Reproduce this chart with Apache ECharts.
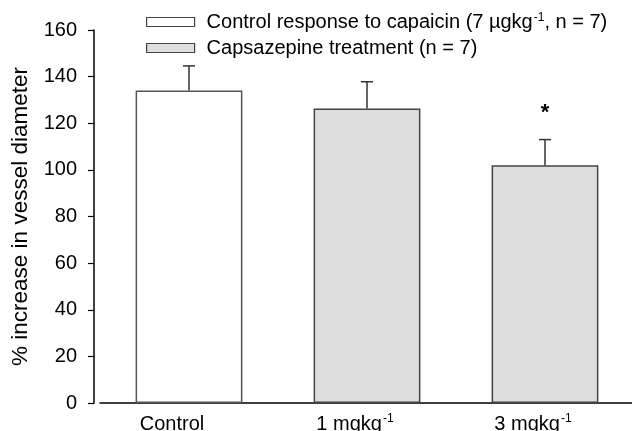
<!DOCTYPE html>
<html>
<head>
<meta charset="utf-8">
<script src="https://cdn.jsdelivr.net/npm/echarts@6/dist/echarts.min.js"></script>
<style>
html,body{margin:0;padding:0;background:#fff;}
#chart{width:632px;height:431px;}
</style>
</head>
<body>
<div id="chart"></div>
<script>
// ---- data ----
var categories = ['Control', '1 mgkg', '3 mgkg'];
var categoryLabels = ['{a|Control}{g1| }', '{a|1 mgkg}{sup|-1}{g2| }', '{a|3 mgkg}{sup|-1}{g2| }'];
var controlValues = [134, '-', '-'];
var treatmentValues = ['-', 126.3, 102];
var meanValues = [134, 126.3, 102];
var errorTops = [144.6, 137.8, 113];
var sigMarks = ['', '', '*'];
var yTicks = [0, 20, 40, 60, 80, 100, 120, 140, 160];
var seriesNames = ['Control response to capaicin (7 \u00b5gkg-1, n = 7)', 'Capsazepine treatment (n = 7)'];

var FONT = 'Liberation Sans, Arial, sans-serif';
var FS = 20;

var chart = echarts.init(document.getElementById('chart'), null, {renderer: 'canvas'});

var errData = categories.map(function (c, i) { return [i, meanValues[i], errorTops[i], sigMarks[i]]; });

var option = {
  animation: false,
  backgroundColor: '#fff',
  grid: {left: 100, right: -2, top: 30, bottom: 28, containLabel: false, outerBoundsMode: 'none'},
  legend: {
    orient: 'vertical',
    left: 146,
    top: 12,
    padding: 0,
    itemWidth: 48,
    itemHeight: 9,
    itemGap: 4,
    icon: 'rect',
    data: [
      {name: seriesNames[0], itemStyle: {color: '#ffffff', borderColor: '#444', borderWidth: 1.2}},
      {name: seriesNames[1], itemStyle: {color: '#dedede', borderColor: '#444', borderWidth: 1.2}}
    ],
    formatter: function (name) {
      if (name === seriesNames[0]) {
        return '{a|Control response to capaicin (7 \u00b5gkg}{sup|-1}{a|, n = 7)}';
      }
      return '{a|' + name + '}';
    },
    textStyle: {
      padding: [0, 0, 0, 7],
      rich: {
        a: {fontFamily: FONT, fontSize: FS, color: '#000', lineHeight: 20},
        sup: {fontFamily: FONT, fontSize: 12, color: '#000', verticalAlign: 'top', lineHeight: 20, padding: [0, 0, 10, 1]}
      }
    }
  },
  xAxis: {
    type: 'category',
    data: categories,
    axisLine: {show: true, lineStyle: {color: '#000', width: 1.5}},
    axisTick: {show: false},
    splitLine: {show: false},
    axisLabel: {
      margin: 11,
      formatter: function (v, i) { return categoryLabels[i]; },
      rich: {
        a: {fontFamily: FONT, fontSize: FS, color: '#000', lineHeight: 20},
        sup: {fontFamily: FONT, fontSize: 12, color: '#000', lineHeight: 20, padding: [0, 0, 10, 1]},
        g1: {width: 34, fontSize: 4},
        g2: {width: 24, fontSize: 4}
      }
    }
  },
  yAxis: {
    type: 'value',
    min: 0,
    max: 160,
    interval: 20,
    offset: 6,
    name: '% increase in vessel diameter',
    nameLocation: 'middle',
    nameGap: 62,
    nameTextStyle: {fontFamily: FONT, fontSize: 22.5, color: '#000'},
    axisLine: {show: true, lineStyle: {color: '#000', width: 1.5}},
    axisTick: {show: true, inside: false, length: 6, lineStyle: {color: '#000', width: 1.2}},
    splitLine: {show: false},
    axisLabel: {
      margin: 17,
      fontFamily: FONT, fontSize: FS, color: '#000',
      formatter: function (v) { return yTicks.indexOf(v) >= 0 ? String(v) : ''; }
    }
  },
  series: [
    {
      name: seriesNames[0],
      type: 'bar',
      data: controlValues,
      barWidth: '60%',
      barGap: '-100%',
      itemStyle: {color: '#ffffff', borderColor: '#555', borderWidth: 1.5}
    },
    {
      name: seriesNames[1],
      type: 'bar',
      data: treatmentValues,
      barWidth: '60%',
      barGap: '-100%',
      itemStyle: {color: '#dedede', borderColor: '#444', borderWidth: 1.5}
    },
    {
      type: 'custom',
      silent: true,
      z: 10,
      data: errData,
      renderItem: function (params, api) {
        var x = api.value(0);
        var base = api.coord([x, api.value(1)]);
        var top = api.coord([x, api.value(2)]);
        var half = 6;
        var children = [
          {type: 'line', shape: {x1: base[0], y1: base[1], x2: top[0], y2: top[1]}, style: {stroke: '#333', lineWidth: 1.5}},
          {type: 'line', shape: {x1: top[0] - half, y1: top[1], x2: top[0] + half, y2: top[1]}, style: {stroke: '#333', lineWidth: 1.5}}
        ];
        var mark = api.value(3);
        if (mark) {
          children.push({type: 'text', style: {text: mark, x: top[0], y: top[1] - 38, align: 'center', verticalAlign: 'top', fill: '#000', font: 'bold 22px ' + FONT}});
        }
        return {type: 'group', children: children};
      }
    }
  ]
};
chart.setOption(option);
</script>
</body>
</html>
